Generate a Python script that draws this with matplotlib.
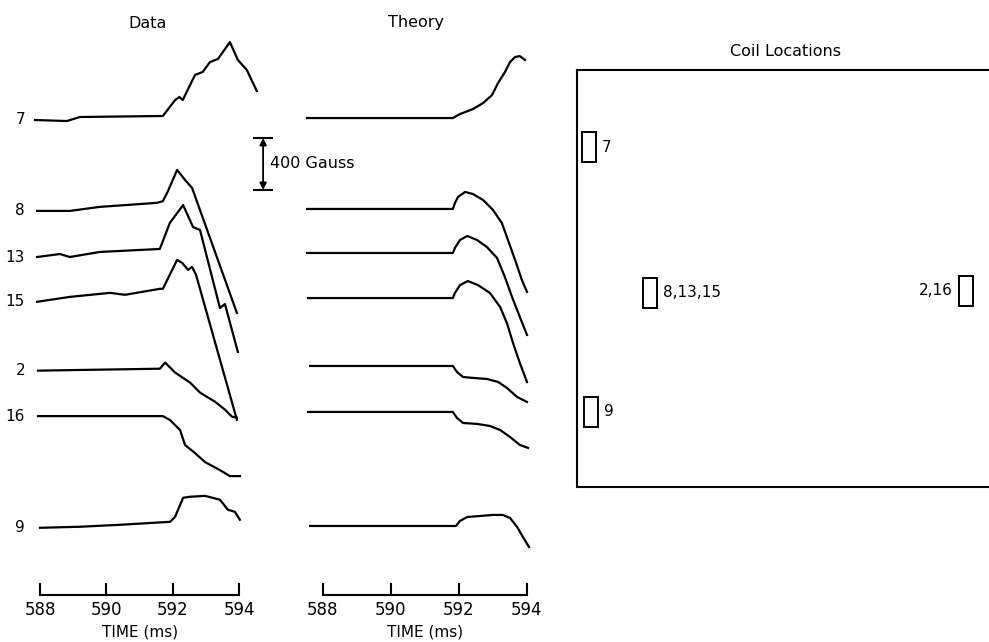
import matplotlib
matplotlib.use("Agg")
import matplotlib.pyplot as plt
from matplotlib.patches import Rectangle

W, H = 989, 642

coils = ['7', '8', '13', '15', '2', '16', '9']

# baseline offsets (Gauss) of each trace, relative to coil 7 in the data panel
data_offsets = [0, -700, -1055, -1400, -1930, -2280, -3140]
theory_offsets = [15, -685, -1024, -1371, -1894, -2248, -3126]

# measured traces: time (ms) and field change (Gauss)
d7_t = [587.85, 588.81, 589.2, 591.7, 592.07, 592.2, 592.3, 592.67, 592.9, 593.12, 593.36, 593.72, 593.96, 594.23, 594.53]
d7_b = [0, -8, 23, 31, 154, 177, 154, 347, 370, 446, 470, 600, 462, 385, 223]
d8_t = [587.91, 588.9, 589.8, 591.52, 591.7, 591.85, 592.13, 592.37, 592.58, 593.93]
d8_b = [0, 0, 31, 62, 75, 150, 316, 238, 177, -785]
d13_t = [587.91, 588.6, 588.9, 589.8, 591.61, 591.91, 592.31, 592.61, 592.82, 593.42, 593.57, 593.96]
d13_b = [0, 23, 0, 39, 62, 262, 400, 231, 208, -393, -362, -731]
d15_t = [587.91, 588.9, 590.11, 590.56, 591.61, 591.7, 592.13, 592.28, 592.46, 592.58, 592.7, 593.93]
d15_b = [0, 38, 69, 54, 100, 100, 323, 300, 246, 269, 208, -908]
d2_t = [587.94, 591.61, 591.77, 592.07, 592.52, 592.82, 593.27, 593.57, 593.78, 593.93]
d2_b = [0, 15, 62, -15, -92, -169, -239, -300, -354, -362]
d16_t = [587.94, 591.7, 591.92, 592.22, 592.37, 592.67, 592.97, 593.42, 593.72, 594.02]
d16_b = [0, 0, -31, -108, -223, -285, -354, -416, -462, -462]
d9_t = [588.0, 589.2, 590.41, 591.92, 592.07, 592.31, 592.52, 592.97, 593.42, 593.66, 593.87, 594.02]
d9_b = [0, 8, 23, 46, 85, 231, 239, 246, 216, 139, 123, 62]

# theory traces
t7_t = [587.53, 591.82, 592.03, 592.41, 592.71, 592.97, 593.15, 593.35, 593.5, 593.65, 593.79, 593.94]
t7_b = [0, 0, 31, 69, 116, 177, 270, 354, 431, 470, 477, 447]
t8_t = [587.53, 591.82, 591.88, 591.97, 592.18, 592.41, 592.71, 593.0, 593.26, 593.44, 593.65, 593.85, 594.0]
t8_b = [0, 0, 46, 92, 131, 115, 69, -8, -108, -239, -393, -547, -639]
t13_t = [587.53, 591.82, 591.88, 592.03, 592.24, 592.53, 592.82, 593.12, 593.35, 593.56, 593.79, 594.0]
t13_b = [0, 0, 39, 100, 131, 100, 46, -39, -185, -339, -493, -631]
t15_t = [587.56, 591.82, 591.88, 592.03, 592.26, 592.56, 592.91, 593.21, 593.41, 593.59, 593.79, 594.0]
t15_b = [0, 0, 39, 100, 131, 100, 39, -69, -193, -347, -500, -647]
t2_t = [587.62, 591.82, 591.94, 592.12, 592.41, 592.82, 593.15, 593.41, 593.71, 594.0]
t2_b = [0, 0, -46, -85, -92, -100, -123, -169, -239, -277]
t16_t = [587.56, 591.82, 591.94, 592.12, 592.53, 592.91, 593.21, 593.5, 593.79, 594.03]
t16_b = [0, 0, -46, -85, -92, -108, -139, -193, -254, -277]
t9_t = [587.62, 591.91, 592.03, 592.24, 592.62, 593.0, 593.29, 593.5, 593.71, 593.88, 594.06]
t9_b = [0, 0, 39, 69, 77, 85, 85, 62, -8, -85, -162]

data_t = [d7_t, d8_t, d13_t, d15_t, d2_t, d16_t, d9_t]
data_b = [d7_b, d8_b, d13_b, d15_b, d2_b, d16_b, d9_b]
theory_t = [t7_t, t8_t, t13_t, t15_t, t2_t, t16_t, t9_t]
theory_b = [t7_b, t8_b, t13_b, t15_b, t2_b, t16_b, t9_b]

time_ticks = [588, 590, 592, 594]

# coil positions inside the vessel cross-section (fractions of the box)
loc_labels = ['7', '8,13,15', '2,16', '9']
loc_x = [0.028, 0.176, 0.944, 0.034]
loc_y = [0.815, 0.466, 0.471, 0.180]
loc_side = ['right', 'right', 'left', 'right']

fig = plt.figure(figsize=(W / 100, H / 100), dpi=100)

G_PER_PX = 7.7
ylo, yhi = (120 - H) * G_PER_PX, 120 * G_PER_PX
axis_y = (120 - 595) * G_PER_PX


def trace_axes(left_px, px_per_ms):
    ax = fig.add_axes([(left_px) / W, 0, 8 * px_per_ms / W, 1])
    ax.set_xlim(587, 595)
    ax.set_ylim(ylo, yhi)
    for s in ['left', 'top', 'right']:
        ax.spines[s].set_visible(False)
    ax.spines['bottom'].set_position(('data', axis_y))
    ax.spines['bottom'].set_bounds(588, 594)
    ax.spines['bottom'].set_linewidth(1.5)
    ax.set_xticks(time_ticks)
    ax.set_xticklabels([str(t) for t in time_ticks])
    ax.tick_params(axis='x', direction='in', length=9, width=1.5, pad=4, labelsize=12)
    ax.set_yticks([])
    ax.set_xlabel('TIME (ms)', fontsize=11, labelpad=4)
    ax.patch.set_visible(False)
    return ax


ax1 = trace_axes(40 - 33.2, 33.2)
for name, off, t, b in zip(coils, data_offsets, data_t, data_b):
    ax1.plot(t, [off + v for v in b], color='black', lw=1.6, clip_on=False,
             solid_joinstyle='round')
    ax1.text(587.55, off, name, ha='right', va='center', fontsize=11)

# 400 Gauss scale bar
sx = 594.72
top, bot = (120 - 138) * G_PER_PX, (120 - 138) * G_PER_PX - 400
ax1.annotate('', xy=(sx, top), xytext=(sx, bot),
             arrowprops=dict(arrowstyle='<|-|>', color='black', lw=1.3,
                             mutation_scale=10, shrinkA=0, shrinkB=0),
             annotation_clip=False)
ax1.plot([sx, sx], [top, bot], ls='none', marker='_', ms=14, mew=1.5,
         color='black', clip_on=False)

ax2 = trace_axes(323 - 34, 34)
for off, t, b in zip(theory_offsets, theory_t, theory_b):
    ax2.plot(t, [off + v for v in b], color='black', lw=1.6, clip_on=False,
             solid_joinstyle='round')

fig.text(270 / W, 1 - 164 / H, '400 Gauss', fontsize=11.5, ha='left', va='center')
fig.text(148 / W, 1 - 24 / H, 'Data', fontsize=11.5, ha='center', va='center')
fig.text(416 / W, 1 - 23 / H, 'Theory', fontsize=11.5, ha='center', va='center')
fig.text(786 / W, 1 - 52 / H, 'Coil Locations', fontsize=11.5, ha='center', va='center')

# coil location box
ax3 = fig.add_axes([577 / W, (H - 487) / H, 412 / W, 417 / H])
ax3.set_xlim(0, 1)
ax3.set_ylim(0, 1)
ax3.set_xticks([])
ax3.set_yticks([])
ax3.spines['right'].set_visible(False)
for s in ['left', 'top', 'bottom']:
    ax3.spines[s].set_linewidth(1.5)
bw, bh = 14 / 412, 30 / 417
for lab, x, y, side in zip(loc_labels, loc_x, loc_y, loc_side):
    ax3.add_patch(Rectangle((x - bw / 2, y - bh / 2), bw, bh, fill=False,
                            lw=1.4, ec='black'))
    if side == 'right':
        ax3.text(x + bw / 2 + 0.015, y, lab, ha='left', va='center', fontsize=11)
    else:
        ax3.text(x - bw / 2 - 0.015, y, lab, ha='right', va='center', fontsize=11)

fig.savefig('out.png', dpi=100)
